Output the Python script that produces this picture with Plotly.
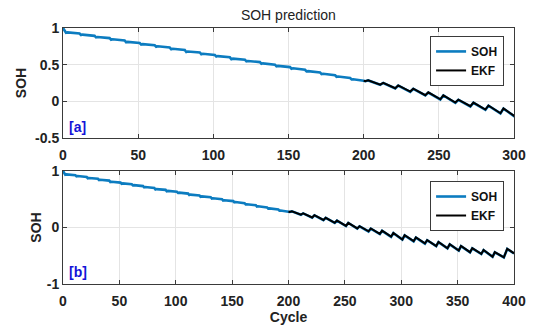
import plotly.graph_objects as go

# ---- data ----
soh_cycle = [0, 1, 2, 3, 11, 12, 13, 21, 22, 23, 31, 32, 33, 41, 42, 43, 51, 52, 53,
             61, 62, 63, 71, 72, 73, 81, 82, 83, 91, 92, 93, 101, 102, 103, 111, 112, 113,
             121, 122, 123, 131, 132, 133, 141, 142, 143, 151, 152, 153, 161, 162, 163,
             171, 172, 173, 181, 182, 183, 191, 192, 193, 200,
             201, 203, 211, 213, 221, 223, 231, 233, 241, 243, 251, 253, 261, 263,
             271, 273, 281, 283, 291, 293, 301, 303, 311, 313, 321, 323, 331, 333,
             341, 343, 351, 353, 361, 363, 371, 373, 381, 383, 391, 394, 400]
soh_value = [1.00, 0.96, 0.935, 0.94, 0.925, 0.905, 0.91, 0.893, 0.872, 0.877, 0.862, 0.84, 0.846,
             0.83, 0.805, 0.81, 0.795, 0.775, 0.78, 0.765, 0.745, 0.75, 0.733, 0.71, 0.716,
             0.70, 0.672, 0.68, 0.666, 0.642, 0.648, 0.632, 0.612, 0.617, 0.60, 0.575, 0.582,
             0.568, 0.545, 0.55, 0.535, 0.512, 0.518, 0.50, 0.478, 0.483, 0.467, 0.445, 0.45,
             0.43, 0.408, 0.412, 0.395, 0.372, 0.376, 0.356, 0.335, 0.338, 0.318, 0.298, 0.30, 0.28,
             0.275, 0.285, 0.225, 0.25, 0.175, 0.215, 0.13, 0.17, 0.08, 0.12, 0.025, 0.08,
             -0.02, 0.02, -0.07, -0.02, -0.115, -0.06, -0.165, -0.10, -0.215, -0.14,
             -0.245, -0.18, -0.285, -0.225, -0.33, -0.26, -0.37, -0.30, -0.41, -0.33,
             -0.44, -0.37, -0.47, -0.40, -0.52, -0.44, -0.53, -0.38, -0.46]

ekf_cycle = [200, 201, 203, 211, 213, 221, 223, 231, 233, 241, 243, 251, 253, 261, 263,
             271, 273, 281, 283, 291, 293, 301, 303, 311, 313, 321, 323, 331, 333,
             341, 343, 351, 353, 361, 363, 371, 373, 381, 383, 391, 394, 400]
ekf_value = [0.283, 0.276, 0.288, 0.228, 0.252, 0.178, 0.218, 0.133, 0.172, 0.083, 0.123,
             0.028, 0.082, -0.017, 0.023, -0.067, -0.017, -0.112, -0.057, -0.162, -0.097,
             -0.212, -0.137, -0.242, -0.177, -0.282, -0.222, -0.327, -0.257, -0.367, -0.297,
             -0.407, -0.327, -0.437, -0.367, -0.467, -0.397, -0.517, -0.437, -0.527, -0.377, -0.457]

top_xmax = 300
bottom_xmax = 400
top_yticks = [-0.5, 0, 0.5, 1]
top_yticktext = ["-0.5", "0", "0.5", "1"]
bottom_yticks = [-1, 0, 1]
bottom_yticktext = ["-1", "0", "1"]
top_xticks = [0, 50, 100, 150, 200, 250, 300]
bottom_xticks = [0, 50, 100, 150, 200, 250, 300, 350, 400]

BLUE = "#0C7CC0"
FONT = "Liberation Sans, Arial, sans-serif"

fig = go.Figure()
fig.add_trace(go.Scatter(x=soh_cycle, y=soh_value, mode="lines", name="SOH",
                         line=dict(color=BLUE, width=2.6), xaxis="x", yaxis="y", legend="legend"))
fig.add_trace(go.Scatter(x=ekf_cycle, y=ekf_value, mode="lines", name="EKF",
                         line=dict(color="black", width=2), xaxis="x", yaxis="y", legend="legend"))
fig.add_trace(go.Scatter(x=soh_cycle, y=soh_value, mode="lines", name="SOH",
                         line=dict(color=BLUE, width=2.6), xaxis="x2", yaxis="y2", legend="legend2"))
fig.add_trace(go.Scatter(x=ekf_cycle, y=ekf_value, mode="lines", name="EKF",
                         line=dict(color="black", width=2), xaxis="x2", yaxis="y2", legend="legend2"))

axis_common = dict(showline=True, linecolor="#3a3a3a", linewidth=1, mirror="allticks",
                   ticks="inside", ticklen=4, tickcolor="#3a3a3a", automargin=False,
                   showgrid=True, gridcolor="#e4e4e4", gridwidth=1, zeroline=False,
                   tickfont=dict(family=FONT, size=14, color="#222222", weight="bold"))
title_font = dict(family=FONT, size=14, color="#222222", weight="bold")
legend_common = dict(x=0.978, xanchor="right", yanchor="top", bgcolor="white",
                     bordercolor="#3a3a3a", borderwidth=1, itemwidth=30,
                     font=dict(family=FONT, size=12, color="#111111", weight="bold"),
                     tracegroupgap=0)

fig.update_layout(
    width=538, height=327,
    margin=dict(l=63, r=24, t=28, b=43),
    paper_bgcolor="white", plot_bgcolor="white",
    font=dict(family=FONT, color="#222222"),
    title=dict(text="SOH prediction", x=0.536, xanchor="center", y=0.955, yanchor="middle",
               yref="container", font=dict(family=FONT, size=14, color="#222222")),
    xaxis=dict(domain=[0, 1], anchor="y", range=[0, top_xmax], tickvals=top_xticks,
               ticklabelstandoff=4, **axis_common),
    yaxis=dict(domain=[0.5703, 1], anchor="x", range=[-0.5, 1], tickvals=top_yticks,
               ticktext=top_yticktext, title=dict(text="SOH", font=title_font, standoff=5),
               **axis_common),
    xaxis2=dict(domain=[0, 1], anchor="y2", range=[0, bottom_xmax], tickvals=bottom_xticks,
                ticklabelstandoff=4, title=dict(text="Cycle", font=title_font, standoff=2),
                **axis_common),
    yaxis2=dict(domain=[0, 0.4414], anchor="x2", range=[-1, 1], tickvals=bottom_yticks,
                ticktext=bottom_yticktext, title=dict(text="SOH", font=title_font, standoff=1),
                **axis_common),
    legend=dict(y=0.969, **legend_common),
    legend2=dict(y=0.4023, **legend_common),
    showlegend=True,
    annotations=[
        dict(text="[a]", x=0.008, y=0.613, xref="paper", yref="paper", xanchor="left",
             yanchor="middle", showarrow=False,
             font=dict(family=FONT, size=14, color="#1414d8", weight="bold")),
        dict(text="[b]", x=0.008, y=0.047, xref="paper", yref="paper", xanchor="left",
             yanchor="middle", showarrow=False,
             font=dict(family=FONT, size=14, color="#1414d8", weight="bold")),
    ],
)

fig.write_html("out.html", config={"displayModeBar": False},
               post_script="document.body.style.margin='0';")
